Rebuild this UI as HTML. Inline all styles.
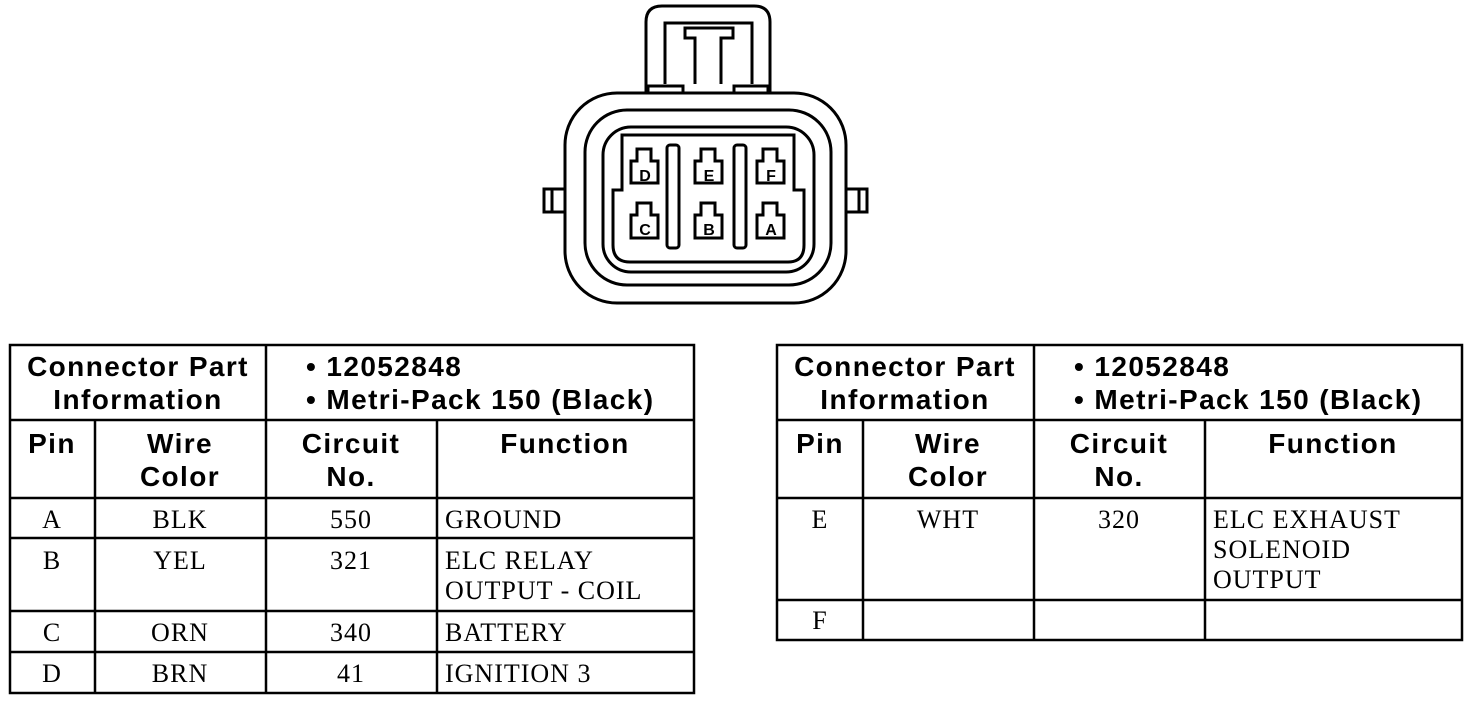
<!DOCTYPE html>
<html><head><style>
html,body{margin:0;padding:0;background:#fff;}
svg{display:block;}
.h{font-family:"Liberation Sans",Arial,sans-serif;font-weight:bold;font-size:28px;letter-spacing:1.4px;fill:#000;}
.b{font-family:"Liberation Serif","Times New Roman",serif;font-size:26px;letter-spacing:1px;fill:#000;}
.pl{font-family:"Liberation Sans",Arial,sans-serif;font-weight:bold;font-size:16px;fill:#000;}
</style></head><body>
<svg width="1472" height="702" viewBox="0 0 1472 702" xmlns="http://www.w3.org/2000/svg">
<g fill="none" stroke="#000" stroke-width="3">
  <path d="M646 92 V22 Q646 6 662 6 H754 Q770 6 770 22 V92"/>
  <path d="M665 84 V23 H752 V84"/>
  <path d="M695 84 V38 H685 V28 H733 V38 H721 V84"/>
  <path d="M648 92 V86 H683 V92 M734 92 V86 H768 V92"/>
  <rect x="565" y="93" width="281" height="210" rx="52"/>
  <rect x="585" y="110" width="246" height="175" rx="42"/>
  <rect x="603" y="127" width="211" height="145" rx="28"/>
  <path d="M622 135 H794 V190 H804 V245 Q804 262 788 262 H630 Q613 262 613 245 V190 H622 Z"/>
  <rect x="544" y="189" width="21" height="23"/>
  <line x1="552" y1="189" x2="552" y2="212"/>
  <rect x="846" y="189" width="21" height="23"/>
  <line x1="859" y1="189" x2="859" y2="212"/>
  <rect x="667" y="145" width="12" height="103" rx="3"/>
  <rect x="734" y="145" width="12" height="103" rx="3"/>
</g>
<g fill="none" stroke="#000" stroke-width="3">
  <path d="M637 149 H651 V161 H658 V183 H631 V161 H637 Z"/>
  <path d="M701 149 H715 V161 H722 V183 H695 V161 H701 Z"/>
  <path d="M763 149 H777 V161 H784 V183 H757 V161 H763 Z"/>
  <path d="M637 203 H651 V215 H658 V238 H631 V215 H637 Z"/>
  <path d="M701 203 H715 V215 H722 V238 H695 V215 H701 Z"/>
  <path d="M763 203 H777 V215 H784 V238 H757 V215 H763 Z"/>
</g>
<g class="pl" text-anchor="middle">
  <text x="645" y="181">D</text><text x="709" y="181">E</text><text x="771" y="181">F</text>
  <text x="645" y="235">C</text><text x="709" y="235">B</text><text x="771" y="235">A</text>
</g>

<g fill="none" stroke="#000" stroke-width="2.5">
  <rect x="10" y="345" width="684" height="348"/>
  <line x1="10" y1="420" x2="694" y2="420"/>
  <line x1="10" y1="498" x2="694" y2="498"/>
  <line x1="10" y1="538" x2="694" y2="538"/>
  <line x1="10" y1="611" x2="694" y2="611"/>
  <line x1="10" y1="652" x2="694" y2="652"/>
  <line x1="266" y1="345" x2="266" y2="693"/>
  <line x1="95" y1="420" x2="95" y2="693"/>
  <line x1="437" y1="420" x2="437" y2="693"/>
</g>
<g class="h" text-anchor="middle">
  <text x="138" y="376">Connector Part</text>
  <text x="138" y="409">Information</text>
  <text x="52" y="453">Pin</text>
  <text x="180" y="453">Wire</text><text x="180" y="486">Color</text>
  <text x="351" y="453">Circuit</text><text x="351" y="486">No.</text>
  <text x="565" y="453">Function</text>
</g>
<g class="h"><text x="306" y="376">• 12052848</text><text x="306" y="409">• Metri-Pack 150 (Black)</text></g>
<g class="b" text-anchor="middle">
  <text x="52" y="528">A</text><text x="180" y="528">BLK</text><text x="351" y="528">550</text>
  <text x="52" y="569">B</text><text x="180" y="569">YEL</text><text x="351" y="569">321</text>
  <text x="52" y="641">C</text><text x="180" y="641">ORN</text><text x="351" y="641">340</text>
  <text x="52" y="682">D</text><text x="180" y="682">BRN</text><text x="351" y="682">41</text>
</g>
<g class="b">
  <text x="445" y="528">GROUND</text>
  <text x="445" y="569">ELC RELAY</text><text x="445" y="599">OUTPUT - COIL</text>
  <text x="445" y="641">BATTERY</text>
  <text x="445" y="682">IGNITION 3</text>
</g>

<g fill="none" stroke="#000" stroke-width="2.5">
  <rect x="777" y="345" width="685" height="295"/>
  <line x1="777" y1="420" x2="1462" y2="420"/>
  <line x1="777" y1="498" x2="1462" y2="498"/>
  <line x1="777" y1="600" x2="1462" y2="600"/>
  <line x1="1034" y1="345" x2="1034" y2="640"/>
  <line x1="863" y1="420" x2="863" y2="640"/>
  <line x1="1205" y1="420" x2="1205" y2="640"/>
</g>
<g class="h" text-anchor="middle">
  <text x="905" y="376">Connector Part</text>
  <text x="905" y="409">Information</text>
  <text x="820" y="453">Pin</text>
  <text x="948" y="453">Wire</text><text x="948" y="486">Color</text>
  <text x="1119" y="453">Circuit</text><text x="1119" y="486">No.</text>
  <text x="1333" y="453">Function</text>
</g>
<g class="h"><text x="1074" y="376">• 12052848</text><text x="1074" y="409">• Metri-Pack 150 (Black)</text></g>
<g class="b" text-anchor="middle">
  <text x="820" y="528">E</text><text x="948" y="528">WHT</text><text x="1119" y="528">320</text>
  <text x="820" y="629">F</text>
</g>
<g class="b">
  <text x="1213" y="528">ELC EXHAUST</text>
  <text x="1213" y="558">SOLENOID</text>
  <text x="1213" y="588">OUTPUT</text>
</g>
</svg>
</body></html>
